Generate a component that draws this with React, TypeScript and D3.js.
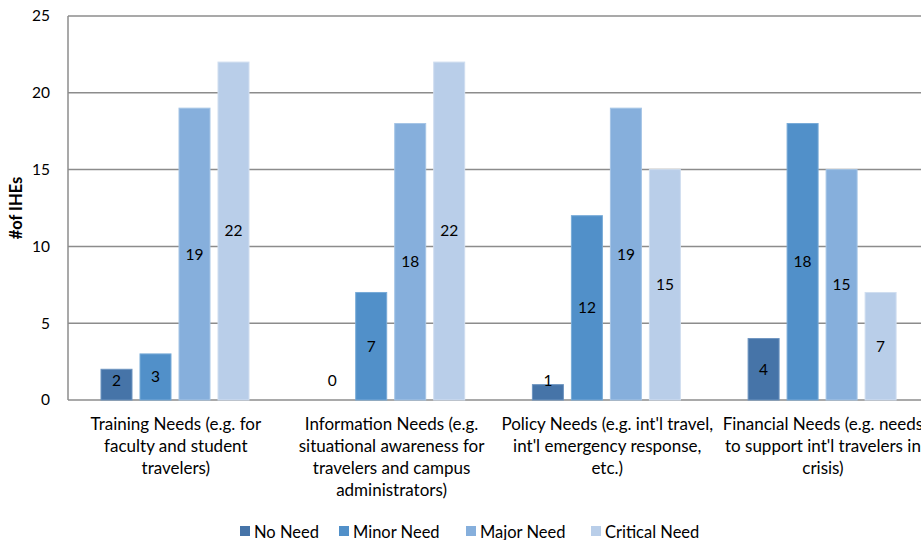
import React from "react";
import * as d3 from "d3";

const categories: string[][] = [
  ["Training Needs (e.g. for", "faculty and student", "travelers)"],
  ["Information Needs (e.g.", "situational awareness for", "travelers and campus", "administrators)"],
  ["Policy Needs (e.g. int'l travel,", "int'l emergency response,", "etc.)"],
  ["Financial Needs (e.g. needs", "to support int'l travelers in", "crisis)"],
];
const seriesNames = ["No Need", "Minor Need", "Major Need", "Critical Need"];
const noNeed = [2, 0, 1, 4];
const minorNeed = [3, 7, 12, 18];
const majorNeed = [19, 18, 19, 15];
const criticalNeed = [22, 22, 15, 7];
const yTicks = [0, 5, 10, 15, 20, 25];

const seriesValues = [noNeed, minorNeed, majorNeed, criticalNeed];
const colors = ["#4674a8", "#5190c9", "#86afdc", "#b9cee9"];
const strokes = ["#6d94c0", "#78abd8", "#a6c5e6", "#d0def0"];

const W = 921;
const H = 540;
const left = 68;
const top = 16;
const bottom = 400;
const plotRight = left + 4 * 215.7;
const font = "Lato, 'Open Sans', sans-serif";

export default function App() {
  const x0 = d3
    .scaleBand<number>()
    .domain(categories.map((_, i) => i))
    .range([left, plotRight]);
  const x1 = d3
    .scaleBand<string>()
    .domain(seriesNames)
    .range([33, 181])
    .paddingInner(8 / 39)
    .paddingOuter(0);
  const y = d3.scaleLinear().domain([0, 25]).range([bottom, top]);

  return (
    <svg
      width={W}
      height={H}
      style={{ position: "absolute", left: 0, top: 0, display: "block", background: "#fff" }}
      fontFamily={font}
    >
      {/* gridlines */}
      {yTicks.map((t) => (
        <line
          key={t}
          x1={left}
          x2={plotRight}
          y1={y(t)}
          y2={y(t)}
          stroke="#8c8c8c"
          strokeWidth={1.5}
        />
      ))}
      <line x1={left} x2={left} y1={top} y2={bottom} stroke="#8c8c8c" strokeWidth={1.5} />

      {/* y tick labels */}
      {yTicks.map((t) => (
        <text
          key={t}
          x={50}
          y={y(t)}
          dy="0.35em"
          textAnchor="end"
          fontSize={15.5}
          fill="#000"
        >
          {t}
        </text>
      ))}

      {/* y axis title */}
      <text
        transform={`translate(22,${(top + bottom) / 2}) rotate(-90)`}
        textAnchor="middle"
        fontSize={16.5}
        fontWeight="bold"
        fill="#000"
      >
        #of IHEs
      </text>

      {/* bars */}
      {categories.map((_, ci) =>
        seriesNames.map((s, si) => {
          const v = seriesValues[si][ci];
          const bx = (x0(ci) ?? 0) + (x1(s) ?? 0);
          const bw = x1.bandwidth();
          const by = y(v);
          const mid = (by + bottom) / 2;
          const ly = Math.min(mid, bottom - 19);
          return (
            <g key={`${ci}-${si}`}>
              {v > 0 && (
                <rect
                  x={bx}
                  y={by}
                  width={bw}
                  height={bottom - by}
                  fill={colors[si]}
                  stroke={strokes[si]}
                  strokeWidth={1}
                />
              )}
              <text
                x={bx + bw / 2}
                y={ly}
                dy="0.35em"
                textAnchor="middle"
                fontSize={15.5}
                fill="#000"
              >
                {v}
              </text>
            </g>
          );
        })
      )}

      {/* category labels */}
      {categories.map((lines, ci) => {
        const cx = (x0(ci) ?? 0) + x0.bandwidth() / 2;
        return (
          <text key={ci} textAnchor="middle" fontSize={17} fill="#000">
            {lines.map((l, li) => (
              <tspan key={li} x={cx} y={424 + li * 22} dy="0.35em">
                {l}
              </tspan>
            ))}
          </text>
        );
      })}

      {/* legend */}
      {seriesNames.map((s, si) => {
        const lx = [240, 339, 466, 591][si];
        return (
          <g key={s}>
            <rect x={lx} y={526} width={10} height={10} fill={colors[si]} />
            <text x={lx + 14} y={532} dy="0.35em" fontSize={16.5} fill="#000">
              {s}
            </text>
          </g>
        );
      })}
    </svg>
  );
}
